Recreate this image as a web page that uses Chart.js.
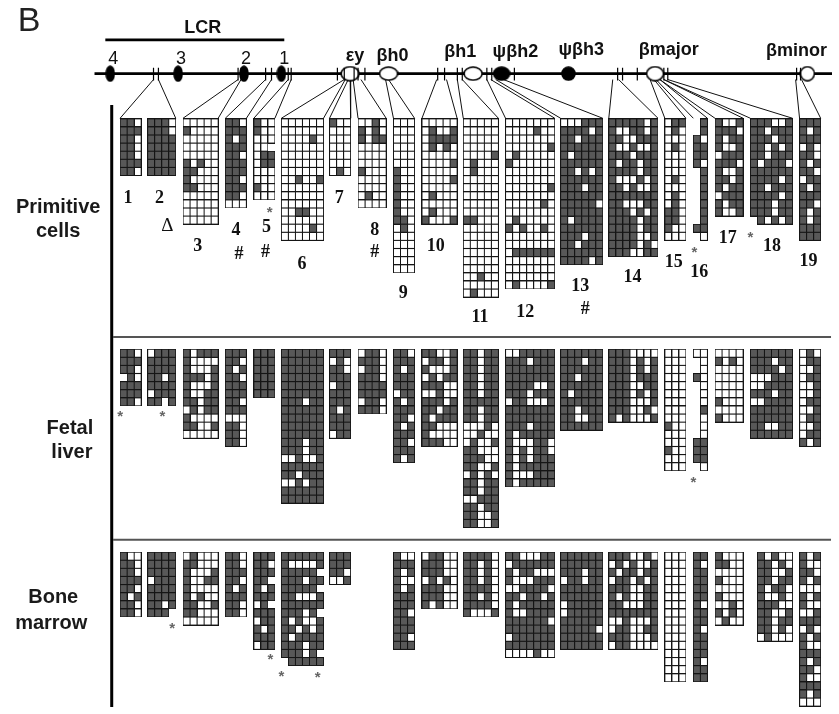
<!DOCTYPE html>
<html>
<head>
<meta charset="utf-8">
<title>Methylation map of the beta-globin locus</title>
<script src="https://cdn.jsdelivr.net/npm/chart.js@4.4.1/dist/chart.umd.min.js"></script>
<style>
  html, body { margin: 0; padding: 0; background: #fff; }
  canvas { display: block; }
</style>
</head>
<body>
<canvas id="methylChart" width="839" height="714"></canvas>
<script>
// ---------- data ----------
const regionNames = ['1','2','3','4','5','6','7','8','9','10','11','12','13','14','15','16','17','18','19'];
const tissueNames = [['Primitive', 'cells'], ['Fetal', 'liver'], ['Bone', 'marrow']];
const lcrSites = ['4', '3', '2', '1'];
const geneNames = ['εy', 'βh0', 'βh1', 'ψβh2', 'ψβh3', 'βmajor', 'βminor'];
const primitiveMarks = ['Δ', '#', '#', '#', '#'];

// one string per clone, one char per CpG: 1 methylated, 0 unmethylated, . no site
const primitiveCells = [
    ['110','111','110','110','110','111','110'],
    ['1110','1110','1111','1111','1111','1111','1111'],
    ['00000','10000','00000','00000','00000','10100','11000','10000','11000','00000','00000','00000','00000'],
    ['110','111','101','111','110','111','111','110','111','110','000'],
    ['100','100','000','00.','011','011','000','000','100','000'],
    ['000000','000000','000010','000000','000000','000000','000000','001001','000000','000000','000000','001100','000000','000010','000000'],
    ['100','000','000','000','000','000','010'],
    ['0010','1010','1011','0000','0000','0000','1000','0000','0000','0100','0000'],
    ['000','000','000','000','000','000','100','100','100','100','100','100','110','010','000','000','000','000','000'],
    ['00000','01001','01111','01010','00000','00001','00000','00001','00000','01000','00000','01000','10001'],
    ['00000','00000','00000','00000','00001','01000','01000','00000','00000','00000','00000','00000','11000','00000','00000','00000','00000','00000','00000','00100','00000','01000'],
    ['0000000','0000100','0000000','0000001','0100000','1000000','0000000','0000000','0000001','0000000','0000010','0000000','0100000','1010010','0000000','0000000','0111111','0000000','0000000','0000000','0100001'],
    ['000111','111101','110111','111111','101111','111111','110101','111111','111011','111111','111110','111111','101111','111111','111011','110111','111111','111101'],
    ['1111101','1001101','1100111','1001001','1110111','1011011','1111011','1000101','1101001','1111111','1100011','1110101','1111011','1111011','1111001','1111010','1110011'],
    ['011','010','000','010','000','000','000','010','000','010','010','110','110','100','000'],
    ['.1','.1','10','11','11','10','.1','.1','.1','.1','.1','.1','.1','11','.0'],
    ['1001','1110','1011','1001','0111','1110','1001','1101','1011','0111','1011','1001'],
    ['111001','110111','111011','110101','110111','101110','111111','111101','110111','111101','111011','111011','.10101'],
    ['111','101','111','010','110','101','110','011','101','111','110','101','101','111','111']
];

const fetalLiver = [
    ['110','111','110','.10','111','111','110'],
    ['0111','1111','1111','1101','1111','0111','11.1'],
    ['10111','10000','10001','11101','10001','10011','11011','01011','10000','11001','00000'],
    ['111','110','101','110','111','111','110','111','000','110','110','110'],
    ['111','111','111','111','111','111'],
    ['111111','111111','111111','111111','111111','111111','111011','111111','111111','111111','111111','111011','111011','001001','111111','110111','001011','111111','111111'],
    ['111','010','110','111','011','111','111','101','111','111','011'],
    ['0110','1110','0110','1110','1111','1111','0110','1110'],
    ['110','111','101','111','111','011','101','111','110','101','111','110','111','101'],
    ['11001','01101','10001','01011','11100','00100','11101','11011','10111','11000','10000','11100'],
    ['11011','11011','11011','11011','11011','11011','11111','11011','11011','00010','00100','01001','11000','11100','11001','01010','11011','11011','00111','11011','11001','11001'],
    ['0011111','1110111','1111111','1111111','1111001','1110111','0110001','1111111','1111111','1110111','1011111','1000110','1010110','1010111','1011111','1000111','1011111'],
    ['111111','111011','111111','110111','111111','101111','111111','110111','110011','111111'],
    ['1110000','1110101','1110101','1110111','1110011','1110101','1110001','1110010','1010001'],
    ['000','000','000','000','000','000','000','000','000','100','000','000','100','000','000'],
    ['00','.0','.0','10','.0','.0','.0','.1','.0','.0','.0','11','11','11','.0'],
    ['0000','1010','0000','0000','0000','0000','1000','0000','1000'],
    ['111111','111011','111101','000111','001111','111011','001111','111111','111111','110011','111111'],
    ['010','011','001','011','001','001','011','001','011','001','011','101']
];

const boneMarrow = [
    ['100','110','110','111','110','101','110','110'],
    ['1111','1111','1111','0111','1111','1111','1101','111.'],
    ['01000','11000','10001','10011','10000','10100','11001','11000','00000'],
    ['110','110','111','110','101','111','110','110'],
    ['111','110','111','11.','101','111','01.','111','011','101','111','011'],
    ['111111','100001','11111.','111011','11111.','110001','111111','11101.','101001','110101','101111','111011','11101.','.11111'],
    ['111','111','110','001'],
    null, // region 8 not analysed
    ['100','111','101','100','101','111','111','110','111','111','110','111'],
    ['01100','11100','11100','01010','11100','11100','10100'],
    ['11110','11010','11010','11010','11110','11010','11110','10001'],
    ['1100011','0111111','1011000','1000111','0011110','1101101','1011111','1001111','1111110','1111111','0111111','1111111','0000100'],
    ['111111','111111','111011','011011','111111','111111','011111','011111','111111','111110','111111','111111'],
    ['1110010','0101001','1011011','0110101','1110011','1010011','1100011','1111111','0010001','0110011','1110001','0110000'],
    ['000','000','000','000','000','000','000','000','000','000','000','000','000','000','000','000'],
    ['11','10','11','11','11','11','10','11','11','10','11','11','11','10','11','11'],
    ['1000','1100','0000','1000','0000','1000','0010','1010','0100'],
    ['.10100','.11010','.11001','.11011','.10110','.10010','.11100','.11001','.11011','.11010','.01000'],
    ['101','100','110','101','000','101','100','001','111','010','101','100','111','101','110','100','111','101','000']
];

// ---------- layout (pixels of the 839x714 page) ----------
const CELL_W = 7.15;
const CELL_H = 8.27;
const CHROM_Y = 68;
const gridLeft = [115,143,179,222,251,279,328,357,393,422,464,507,563,612,669,698,720,756,806];
const panelTop = [114, 349, 556];
const hsX = [105, 174, 241, 279];
const geneX = [349, 388, 474, 503, 571, 659, 814];
const geneShape = [[18,14,'#fff'],[18,13,'#fff'],[18,13,'#fff'],[16,13,'#000'],[13,13,'#000'],[17,14,'#fff'],[14,14,'#fff']];
const geneTextPos = [[354,55],[392,55],[461,51],[517,51],[584,49],[673,49],[803,50]];
const hsTextPos = [[108,58],[177,58],[243,58],[282,58]];
const tickX = [149,154,235,238,263,269,286,289,336,343,353,357,364,438,445,458,463,488,493,516,621,626,641,668,672,803,807];
// [left anchor on the map, right anchor, first grid, last grid]
const fanLinks = [
    [149,154,0,1],[235,238,2,2],[263,269,3,3],[286,289,4,4],[343,344,5,5],[347,349,6,6],
    [352,360,7,7],[385,388,8,8],[437,447,9,9],[458,463,10,10],[488,492,11,11],[497,505,12,12],
    [616,622,13,13],[654,658,14,14],[660,664,15,15],[664,668,16,16],[668,672,17,17],[802,808,18,18]
];
const regionTextPos = [[123,195],[155,195],[194,244],[233,228],[264,225],[300,262],[338,195],[374,228],[403,292],[436,244],[481,317],[527,311],[583,285],[636,276],[678,260],[704,271],[733,236],[778,244],[815,259]];
const markPos = [[163,223],[236,252],[263,250],[374,250],[588,308]];
const starPos = [[267,207],[699,248],[756,232],[115,415],[158,415],[698,482],[168,631],[268,663],[279,680],[316,681]];
const tissueTextPos = [[[52,205],[52,229]], [[64,430],[66,454]], [[47,602],[45,629]]];

class MethylationFigure {
    constructor(canvasId) {
        this.canvas = document.getElementById(canvasId);
        this.texts = [];
        this.init();
    }

    init() {
        this.darkCell = this.makeCell('#585858');
        this.lightCell = this.makeCell('#ffffff');
        this.hsImg = this.makeEllipse(8, 15, '#000');
        this.geneImgs = geneShape.map(([w, h, fill]) => this.makeEllipse(w, h, fill));
        this.buildTexts();
        this.render();
    }

    makeCell(fill) {
        const c = document.createElement('canvas');
        c.width = 8;
        c.height = 9;
        const g = c.getContext('2d');
        g.fillStyle = fill;
        g.fillRect(0, 0, 8, 9);
        g.strokeStyle = '#151515';
        g.lineWidth = 1;
        g.strokeRect(0.5, 0.5, 7, 8);
        return c;
    }

    makeEllipse(w, h, fill) {
        const c = document.createElement('canvas');
        c.width = w + 2;
        c.height = h + 2;
        const g = c.getContext('2d');
        g.beginPath();
        g.ellipse(c.width / 2, c.height / 2, w / 2, h / 2, 0, 0, Math.PI * 2);
        g.fillStyle = fill;
        g.fill();
        g.lineWidth = 1.6;
        g.strokeStyle = '#000';
        g.stroke();
        return c;
    }

    // cell centres for one tissue, state '1' or '0'
    cellPoints(grids, top, state) {
        const pts = [];
        grids.forEach((rows, g) => {
            if (!rows) return;
            rows.forEach((row, r) => {
                [...row].forEach((ch, c) => {
                    if (ch === state) {
                        pts.push({ x: gridLeft[g] + (c + 0.5) * CELL_W, y: top + (r + 0.5) * CELL_H });
                    }
                });
            });
        });
        return pts;
    }

    segments(list) {
        const out = [];
        list.forEach(([x1, y1, x2, y2]) => {
            out.push({ x: x1, y: y1 }, { x: x2, y: y2 }, { x: null, y: null });
        });
        return out;
    }

    lineSet(data, color, width, order) {
        return {
            data, order,
            showLine: true, spanGaps: false,
            borderColor: color, borderWidth: width,
            pointRadius: 0, pointHoverRadius: 0
        };
    }

    buildLines() {
        const fans = [];
        fanLinks.forEach(([a, b, g0, g1]) => {
            const right = gridLeft[g1] + primitiveCells[g1][0].length * CELL_W;
            fans.push([a, CHROM_Y + 6, gridLeft[g0], panelTop[0] - 0.5]);
            fans.push([b, CHROM_Y + 6, right, panelTop[0] - 0.5]);
        });
        const ticks = tickX.map(x => [x, CHROM_Y - 6, x, CHROM_Y + 7]);
        return [
            this.lineSet(this.segments([[89, CHROM_Y, 839, CHROM_Y], [100, 33.5, 282, 33.5]]), '#000', 2.6, 6),
            this.lineSet(this.segments(ticks), '#000', 1.2, 1),
            this.lineSet(this.segments(fans), '#111', 1, 5),
            this.lineSet(this.segments([[106.5, 100, 106.5, 714]]), '#000', 3, 5),
            this.lineSet(this.segments([[108, 336.5, 838, 336.5], [108, 543.5, 838, 543.5]]), '#555', 2, 5)
        ];
    }

    buildCells() {
        const sets = [];
        [primitiveCells, fetalLiver, boneMarrow].forEach((grids, t) => {
            sets.push({
                data: this.cellPoints(grids, panelTop[t], '0'),
                pointStyle: this.lightCell, pointRadius: 4, order: 4
            });
            sets.push({
                data: this.cellPoints(grids, panelTop[t], '1'),
                pointStyle: this.darkCell, pointRadius: 4, order: 3
            });
        });
        return sets;
    }

    buildMarks() {
        const hsImg = this.hsImg;
        const geneImgs = this.geneImgs;
        return [
            {
                data: hsX.map(x => ({ x, y: CHROM_Y })),
                pointStyle: hsImg, pointRadius: 5, order: 2
            },
            {
                data: geneX.map(x => ({ x, y: CHROM_Y })),
                pointStyle: (ctx) => geneImgs[ctx.dataIndex] || geneImgs[0],
                pointRadius: 6, order: 2
            }
        ];
    }

    addText(text, x, y, font, opts = {}) {
        this.texts.push({ text, x, y, font, color: opts.color || '#111', base: opts.base || 'middle', align: opts.align || 'center' });
    }

    buildTexts() {
        const sans = '"Liberation Sans", Arial, sans-serif';
        const serif = '"Liberation Serif", "Times New Roman", serif';
        this.addText('B', 11, 24, '34px ' + sans, { align: 'left', base: 'alphabetic', color: '#222' });
        this.addText('LCR', 199, 27, 'bold 18px ' + sans, { base: 'alphabetic' });
        lcrSites.forEach((s, i) => this.addText(s, hsTextPos[i][0], hsTextPos[i][1], '18px ' + sans, { base: 'alphabetic' }));
        geneNames.forEach((g, i) => this.addText(g, geneTextPos[i][0], geneTextPos[i][1], 'bold 18px ' + sans, { base: 'alphabetic' }));
        regionNames.forEach((r, i) => this.addText(r, regionTextPos[i][0], regionTextPos[i][1], 'bold 18px ' + serif));
        primitiveMarks.forEach((m, i) => {
            const font = m === 'Δ' ? '19px ' + serif : 'bold 18px ' + serif;
            this.addText(m, markPos[i][0], markPos[i][1], font);
        });
        starPos.forEach(([x, y]) => this.addText('*', x, y + 3, 'bold 15px ' + sans, { color: '#666' }));
        tissueNames.forEach((lines, t) => {
            lines.forEach((line, k) => {
                const [x, y] = tissueTextPos[t][k];
                this.addText(line, x, y, 'bold 20px ' + sans, { color: '#1a1a1a' });
            });
        });
    }

    render() {
        const texts = this.texts;
        const textPlugin = {
            id: 'figureText',
            afterDatasetsDraw(chart) {
                const { ctx, scales: { x, y } } = chart;
                ctx.save();
                texts.forEach(t => {
                    ctx.font = t.font;
                    ctx.fillStyle = t.color;
                    ctx.textAlign = t.align;
                    ctx.textBaseline = t.base;
                    ctx.fillText(t.text, x.getPixelForValue(t.x), y.getPixelForValue(t.y));
                });
                ctx.restore();
            }
        };

        this.chart = new Chart(this.canvas.getContext('2d'), {
            type: 'scatter',
            data: {
                datasets: [...this.buildLines(), ...this.buildCells(), ...this.buildMarks()]
            },
            options: {
                responsive: false,
                animation: false,
                events: [],
                layout: { padding: 0 },
                scales: {
                    x: { type: 'linear', min: 0, max: 839, display: false },
                    y: { type: 'linear', min: 0, max: 714, reverse: true, display: false }
                },
                plugins: {
                    legend: { display: false },
                    tooltip: { enabled: false }
                }
            },
            plugins: [textPlugin]
        });
    }
}

document.addEventListener('DOMContentLoaded', () => {
    new MethylationFigure('methylChart');
});
</script>
</body>
</html>
